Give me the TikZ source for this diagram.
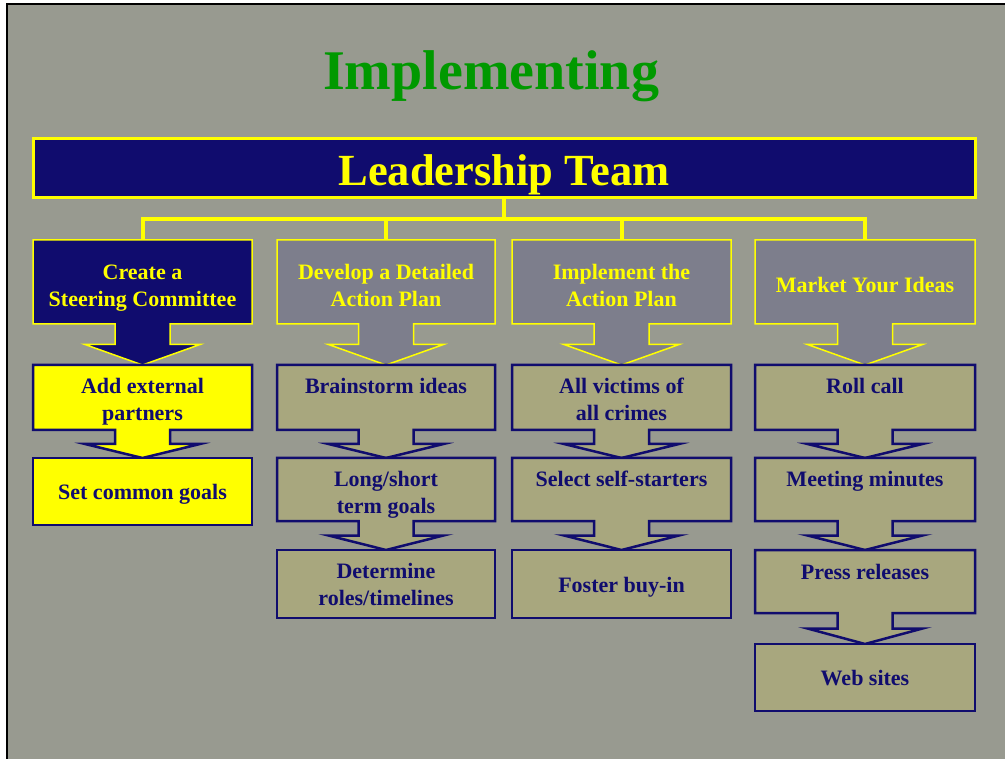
\documentclass[tikz,border=0pt]{standalone}
\usepackage{fontspec}
\setmainfont{Liberation Serif}
\definecolor{bg}{RGB}{152,154,144}
\definecolor{navy}{RGB}{16,12,110}
\definecolor{ylw}{RGB}{255,255,0}
\definecolor{ttl}{RGB}{0,153,0}
\definecolor{topfill}{RGB}{125,126,140}
\definecolor{lowfill}{RGB}{168,167,126}
\newcommand\callout[6]{%
  \draw[#1] (#2,#4) -- (#3,#4) -- (#3,#5) -- ({(#2+#3)/2+27.5},#5)
    -- ({(#2+#3)/2+27.5},{(#5+#6)/2}) -- ({(#2+#3)/2+57.5},{(#5+#6)/2})
    -- ({(#2+#3)/2},#6) -- ({(#2+#3)/2-57.5},{(#5+#6)/2})
    -- ({(#2+#3)/2-27.5},{(#5+#6)/2}) -- ({(#2+#3)/2-27.5},#5)
    -- (#2,#5) -- cycle;}
\begin{document}
\begin{tikzpicture}[x=1pt,y=-1pt,
  topbox/.style={fill=topfill,draw=ylw,line width=1.5pt,line join=miter},
  topfirst/.style={fill=navy,draw=ylw,line width=1.5pt,line join=miter},
  lowbox/.style={fill=lowfill,draw=navy,line width=2.5pt,line join=miter},
  yelbox/.style={fill=ylw,draw=navy,line width=2.5pt,line join=miter},
  hdtxt/.style={font=\fontsize{22}{27}\selectfont\bfseries,text=ylw,align=center,inner sep=0pt,anchor=north},
  lotxt/.style={hdtxt,text=navy},
  bus/.style={draw=ylw,line width=4pt},
  leadbox/.style={draw=ylw,fill=navy,line width=3pt,minimum width=942pt,minimum height=59pt,inner sep=0pt}]
\useasboundingbox (0,0) rectangle (1005,759);
% background
\fill[white] (0,0) rectangle (1005,759);
\fill[bg] (7,4) rectangle (1005,759);
\draw[black,line width=1.5pt] (1005,4) -- (7,4) -- (7,759);
% title
\node[font=\fontsize{56}{60}\selectfont\bfseries,text=ttl,anchor=base,inner sep=0pt] (title) at (491,90) {Implementing};
% leadership team
\node[leadbox] (lt) at (504,168.5) {};
\node[font=\fontsize{44.5}{50}\selectfont\bfseries,text=ylw,anchor=base,inner sep=0pt] (ltt) at (504,186) {Leadership Team};
% bus
\coordinate (j) at (504,219);
\coordinate (t1) at (143,240);
\coordinate (t2) at (386,240);
\coordinate (t3) at (621.5,240);
\coordinate (t4) at (865,240);
\draw[bus] (lt.south) -- (j);
\draw[bus,line join=miter] (t1) |- (j) -| (t4);
\draw[bus] (t2) -- (t2 |- j);
\draw[bus] (t3) -- (t3 |- j);
% column 1
\callout{topfirst}{33}{252}{240}{324}{365}
\callout{yelbox}{33}{252}{365}{430}{458}
\draw[yelbox] (33,458) rectangle (252,525);
% column 2
\callout{topbox}{277}{495}{240}{324}{365}
\callout{lowbox}{277}{495}{365}{430}{458}
\callout{lowbox}{277}{495}{458}{521}{550}
\draw[lowbox] (277,550) rectangle (495,618);
% column 3
\callout{topbox}{512}{731}{240}{324}{365}
\callout{lowbox}{512}{731}{365}{430}{458}
\callout{lowbox}{512}{731}{458}{521}{550}
\draw[lowbox] (512,550) rectangle (731,618);
% column 4
\callout{topbox}{755}{975}{240}{324}{365}
\callout{lowbox}{755}{975}{365}{430}{458}
\callout{lowbox}{755}{975}{458}{521}{550}
\callout{lowbox}{755}{975}{550}{613}{644}
\draw[lowbox] (755,644) rectangle (975,711);
% texts column 1
\node[hdtxt] (a1) at (142.5,260.1) {\strut Create a\\\strut Steering Committee};
\node[lotxt] (a2) at (142.5,374.1) {\strut Add external\\\strut partners};
\node[lotxt] (a3) at (142.5,480.1) {\strut Set common goals};
% column 2
\node[hdtxt] (b1) at (386,260.1) {\strut Develop a Detailed\\\strut Action Plan};
\node[lotxt] (b2) at (386,374.1) {\strut Brainstorm ideas};
\node[lotxt] (b3) at (386,467.1) {\strut Long/short\\\strut term goals};
\node[lotxt] (b4) at (386,559.1) {\strut Determine\\\strut roles/timelines};
% column 3
\node[hdtxt] (c1) at (621.5,260.1) {\strut Implement the\\\strut Action Plan};
\node[lotxt] (c2) at (621.5,374.1) {\strut All victims of\\\strut all crimes};
\node[lotxt] (c3) at (621.5,467.1) {\strut Select self-starters};
\node[lotxt] (c4) at (621.5,573.1) {\strut Foster buy-in};
% column 4
\node[hdtxt] (d1) at (865,273.1) {\strut Market Your Ideas};
\node[lotxt] (d2) at (865,374.1) {\strut Roll call};
\node[lotxt] (d3) at (865,467.1) {\strut Meeting minutes};
\node[lotxt] (d4) at (865,560.1) {\strut Press releases};
\node[lotxt] (d5) at (865,666.1) {\strut Web sites};
\end{tikzpicture}
\end{document}
